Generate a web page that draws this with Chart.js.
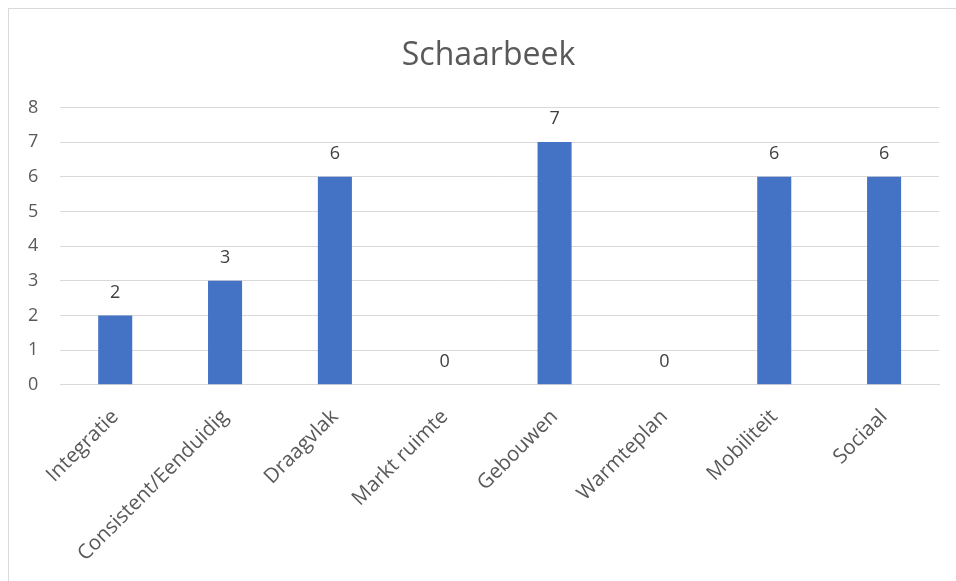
<!DOCTYPE html>
<html>
<head>
<meta charset="utf-8">
<script src="https://cdn.jsdelivr.net/npm/chart.js@4"></script>
<style>
  html, body { margin: 0; padding: 0; background: #fff; overflow: hidden; }
  #wrap { position: relative; width: 956px; height: 581px; }
  #frame { position: absolute; left: 8px; top: 8px; width: 970px; height: 600px; border: 1px solid #d9d9d9; box-sizing: border-box; }
  canvas { position: absolute; left: 0; top: 0; }
</style>
</head>
<body>
<div id="wrap">
  <div id="frame"></div>
  <canvas id="chart" width="956" height="581"></canvas>
</div>
<script>
const categories = ['Integratie', 'Consistent/Eenduidig', 'Draagvlak', 'Markt ruimte', 'Gebouwen', 'Warmteplan', 'Mobiliteit', 'Sociaal'];
const values = [2, 3, 6, 0, 7, 0, 6, 6];
const yTicks = [0, 1, 2, 3, 4, 5, 6, 7, 8];

const textColor = '#595959';
const fontFamily = '"Open Sans", "Noto Sans", sans-serif';

// value labels above each bar
const barLabels = {
    id: 'barLabels',
    afterDatasetsDraw(chart) {
        let ctx = chart.ctx;
        let meta = chart.getDatasetMeta(0);
        ctx.save();
        ctx.font = '18px ' + fontFamily;
        ctx.fillStyle = '#404040';
        ctx.textAlign = 'center';
        ctx.textBaseline = 'bottom';
        meta.data.forEach((bar, i) => {
            ctx.fillText(String(values[i]), bar.x, bar.y - 14);
        });
        ctx.restore();
    }
};

// the original frame is wider than the window, so its title sits a bit right of centre
const titleShift = {
    id: 'titleShift',
    afterLayout(chart) {
        chart.titleBlock.left += 32;
    }
};

let ctx = document.getElementById('chart').getContext('2d');
let chart = new Chart(ctx, {
    type: 'bar',
    data: {
        labels: categories,
        datasets: [{
            label: 'Schaarbeek',
            data: values,
            backgroundColor: '#4472C4',
            borderWidth: 0,
            categoryPercentage: 1,
            barPercentage: 0.31
        }]
    },
    options: {
        responsive: false,
        animation: false,
        layout: { padding: { top: 37, right: 17, left: 6, bottom: 3 } },
        plugins: {
            legend: { display: false },
            tooltip: { enabled: false },
            title: {
                display: true,
                text: 'Schaarbeek',
                color: textColor,
                font: { family: fontFamily, size: 32, weight: 'normal' },
                padding: { top: 0, bottom: 32 }
            }
        },
        scales: {
            x: {
                grid: { display: false },
                border: { color: '#d9d9d9', width: 1 },
                ticks: {
                    color: textColor,
                    font: { family: fontFamily, size: 20.5 },
                    minRotation: 45,
                    maxRotation: 45,
                    padding: 12
                }
            },
            y: {
                min: 0,
                max: 8,
                afterBuildTicks: axis => { axis.ticks = yTicks.map(v => ({ value: v })); },
                grid: { color: '#d9d9d9', lineWidth: 1, drawTicks: false },
                border: { display: false },
                ticks: {
                    color: textColor,
                    font: { family: fontFamily, size: 18 },
                    padding: 22
                }
            }
        }
    },
    plugins: [barLabels, titleShift]
});
</script>
</body>
</html>
